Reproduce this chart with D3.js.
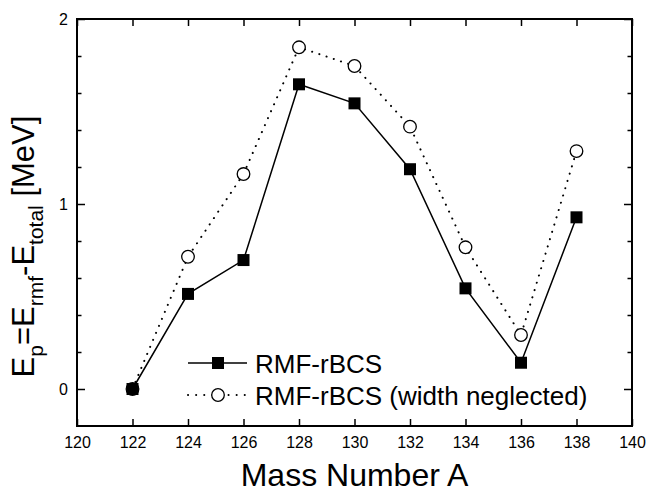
<!DOCTYPE html>
<html>
<head>
<meta charset="utf-8">
<script src="https://cdn.jsdelivr.net/npm/d3@7/dist/d3.min.js"></script>
<style>
  body { margin: 0; background: #fff; }
  svg { display: block; font-family: "Liberation Sans", Arial, sans-serif; }
</style>
</head>
<body>
<div id="chart"></div>
<script>
// data
const massNumbers = [122, 124, 126, 128, 130, 132, 134, 136, 138];
const rbcs = [0, 0.514, 0.697, 1.647, 1.544, 1.188, 0.544, 0.142, 0.928];
const rbcsNoWidth = [0, 0.715, 1.162, 1.847, 1.746, 1.418, 0.766, 0.292, 1.286];
const seriesNames = ["RMF-rBCS", "RMF-rBCS (width neglected)"];
const xTicks = [120, 122, 124, 126, 128, 130, 132, 134, 136, 138, 140];
const yTicks = [0, 1, 2];
const yMinorTicks = [0.2, 0.4, 0.6, 0.8, 1.2, 1.4, 1.6, 1.8];

const width = 647, height = 493;
const margin = { left: 77, right: 15, top: 19, bottom: 67 };

const svg = d3.select("#chart").append("svg")
    .attr("width", width)
    .attr("height", height);

const x = d3.scaleLinear().domain([120, 140]).range([margin.left, width - margin.right]);
const y = d3.scaleLinear().domain([-0.2, 2]).range([height - margin.bottom, margin.top]);

const x0 = x.range()[0], x1 = x.range()[1];
const y0 = y.range()[0], y1 = y.range()[1];

function styleAxis(g) {
    g.select(".domain").remove();
    g.selectAll(".tick line").attr("stroke", "#000").attr("stroke-width", 1.5);
    g.selectAll(".tick text").attr("fill", "#000").attr("font-size", 16)
        .attr("font-family", "Liberation Sans, Arial, sans-serif");
}

// bottom / top
svg.append("g").attr("transform", `translate(0,${y0})`)
    .call(d3.axisBottom(x).tickValues(xTicks).tickSize(-7).tickSizeOuter(0).tickPadding(11))
    .call(styleAxis);
svg.append("g").attr("transform", `translate(0,${y1})`)
    .call(d3.axisTop(x).tickValues(xTicks).tickSize(-7).tickSizeOuter(0).tickFormat(""))
    .call(styleAxis);

// left / right
svg.append("g").attr("transform", `translate(${x0},0)`)
    .call(d3.axisLeft(y).tickValues(yTicks).tickSize(-8).tickSizeOuter(0).tickPadding(9).tickFormat(d3.format("d")))
    .call(styleAxis);
svg.append("g").attr("transform", `translate(${x0},0)`)
    .call(d3.axisLeft(y).tickValues(yMinorTicks).tickSize(-4.5).tickSizeOuter(0).tickFormat(""))
    .call(styleAxis);
svg.append("g").attr("transform", `translate(${x1},0)`)
    .call(d3.axisRight(y).tickValues(yTicks).tickSize(-8).tickSizeOuter(0).tickFormat(""))
    .call(styleAxis);
svg.append("g").attr("transform", `translate(${x1},0)`)
    .call(d3.axisRight(y).tickValues(yMinorTicks).tickSize(-4.5).tickSizeOuter(0).tickFormat(""))
    .call(styleAxis);

// frame
svg.append("rect")
    .attr("x", x0).attr("y", y1)
    .attr("width", x1 - x0).attr("height", y0 - y1)
    .attr("fill", "none").attr("stroke", "#000").attr("stroke-width", 2);

const line = d3.line().x((d, i) => x(massNumbers[i])).y(d => y(d));

// dotted series
svg.append("path")
    .datum(rbcsNoWidth)
    .attr("d", line)
    .attr("fill", "none")
    .attr("stroke", "#000")
    .attr("stroke-width", 2)
    .attr("stroke-linecap", "round")
    .attr("stroke-dasharray", "0.1,7.5");

// solid series
svg.append("path")
    .datum(rbcs)
    .attr("d", line)
    .attr("fill", "none")
    .attr("stroke", "#000")
    .attr("stroke-width", 1.5);

svg.selectAll(".open")
    .data(rbcsNoWidth)
    .enter().append("circle")
    .attr("class", "open")
    .attr("cx", (d, i) => x(massNumbers[i]))
    .attr("cy", d => y(d))
    .attr("r", 6.3)
    .attr("fill", "#fff")
    .attr("stroke", "#000")
    .attr("stroke-width", 1.3);

svg.selectAll(".filled")
    .data(rbcs)
    .enter().append("rect")
    .attr("class", "filled")
    .attr("x", (d, i) => x(massNumbers[i]) - 6)
    .attr("y", d => y(d) - 6)
    .attr("width", 12)
    .attr("height", 12)
    .attr("fill", "#000");

// legend
const legend = svg.append("g");
const legendRows = [
    { name: seriesNames[0], y: 363, dash: null, marker: "square" },
    { name: seriesNames[1], y: 395, dash: "0.1,8", marker: "circle" }
];
legendRows.forEach(r => {
    const ln = legend.append("line")
        .attr("x1", 188).attr("x2", 247)
        .attr("y1", r.y).attr("y2", r.y)
        .attr("stroke", "#000");
    if (r.dash) {
        ln.attr("stroke-width", 2).attr("stroke-linecap", "round").attr("stroke-dasharray", r.dash);
    } else {
        ln.attr("stroke-width", 1.5);
    }
    if (r.marker === "square") {
        legend.append("rect").attr("x", 218 - 6).attr("y", r.y - 6)
            .attr("width", 12).attr("height", 12).attr("fill", "#000");
    } else {
        legend.append("circle").attr("cx", 218).attr("cy", r.y).attr("r", 6.3)
            .attr("fill", "#fff").attr("stroke", "#000").attr("stroke-width", 1.3);
    }
    legend.append("text")
        .attr("x", 255).attr("y", r.y + 9.5)
        .attr("font-size", 26)
        .text(r.name);
});

// axis titles
svg.append("text")
    .attr("x", (x0 + x1) / 2)
    .attr("y", 486)
    .attr("text-anchor", "middle")
    .attr("font-size", 32)
    .text("Mass Number A");

const yTitle = svg.append("text")
    .attr("transform", `translate(34,${(y0 + y1) / 2 + 24}) rotate(-90)`)
    .attr("text-anchor", "middle")
    .attr("font-size", 31);
yTitle.append("tspan").text("E");
yTitle.append("tspan").attr("font-size", 21).attr("dy", 9).text("p");
yTitle.append("tspan").attr("dy", -9).text("=E");
yTitle.append("tspan").attr("font-size", 21).attr("dy", 9).text("rmf");
yTitle.append("tspan").attr("dy", -9).text("-E");
yTitle.append("tspan").attr("font-size", 21).attr("dy", 9).text("total");
yTitle.append("tspan").attr("dy", -9).text(" [MeV]");
</script>
</body>
</html>
